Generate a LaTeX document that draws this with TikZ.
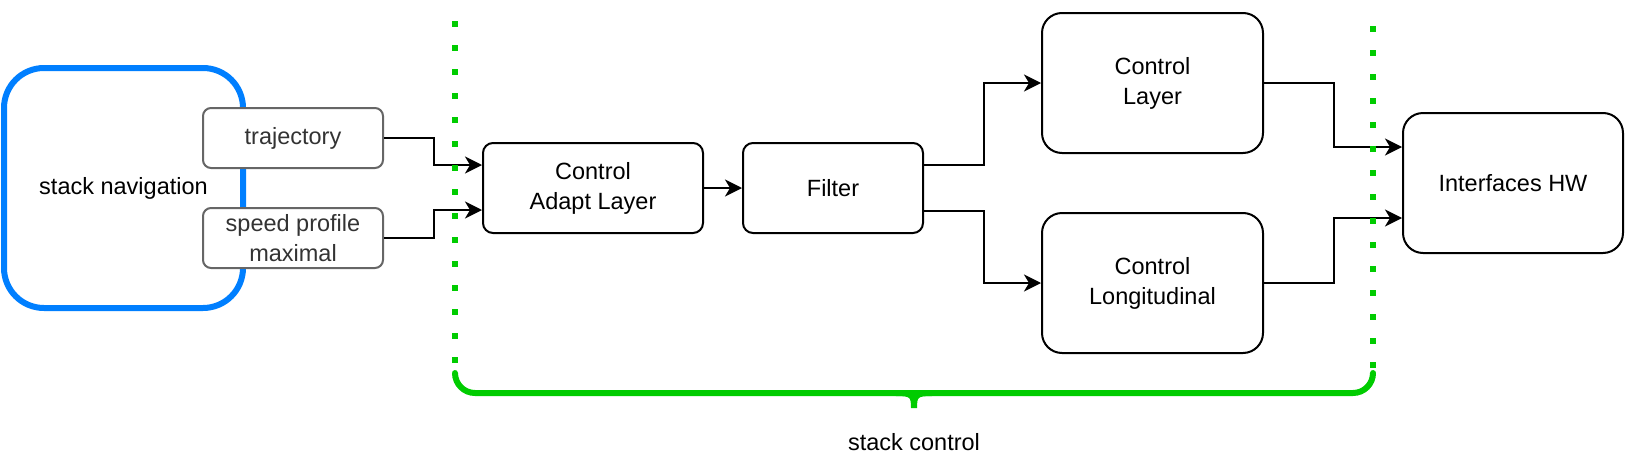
\documentclass[tikz,border=0pt]{standalone}
\usepackage{fontspec}
\setmainfont{Liberation Sans}
\usepackage{xcolor}
\usetikzlibrary{arrows.meta}

\definecolor{navblue}{RGB}{0,127,255}
\definecolor{ctrlgreen}{RGB}{0,204,0}
\definecolor{portgray}{RGB}{102,102,102}
\definecolor{porttext}{RGB}{51,51,51}

\begin{document}
\begin{tikzpicture}[x=1pt,y=-1pt,
  font=\fontsize{23.5}{30}\selectfont,
  block/.style={draw,line width=2pt,rounded corners=10pt,align=center,inner sep=0pt},
  bigblock/.style={block,rounded corners=20pt,minimum height=140pt},
  port/.style={block,draw=portgray,fill=white,text=porttext,rounded corners=8pt,minimum width=180pt,minimum height=60pt},
  link/.style={line width=2pt,-{Stealth[length=17pt,width=17pt,inset=5pt]}},
  limit/.style={ctrlgreen,line width=6pt,dash pattern=on 6pt off 18pt},
  brace/.style={ctrlgreen,line width=6pt,line cap=round}]

\useasboundingbox (0,0) rectangle (1626,474);


\node[block,draw=navblue,line width=6pt,rounded corners=40pt,minimum width=239pt,minimum height=240pt] (nav) at (123.5,188) {stack navigation};
\node[port] (traj) at (293,138) {trajectory};
\node[port] (speed) at (293,238) {speed profile\\maximal};


\node[block,minimum width=220pt,minimum height=90pt] (adapt) at (593,188) {Control\\Adapt Layer};
\node[block,minimum width=180pt,minimum height=90pt] (filter) at (833,188) {Filter};
\node[bigblock,minimum width=221pt] (layer) at (1152.5,83) {Control\\Layer};
\node[bigblock,minimum width=221pt] (longi) at (1152.5,283) {Control\\Longitudinal};
\node[bigblock,minimum width=220pt] (hw) at (1513,183) {Interfaces HW};


\draw[link] (traj.east) -- ++(50,0) |- ([yshift=23pt]adapt.west);
\draw[link] (speed.east) -- ++(50,0) |- ([yshift=-22pt]adapt.west);
\draw[link] (adapt) -- (filter);
\draw[link] ([yshift=23pt]filter.east) -- ++(60,0) |- (layer.west);
\draw[link] ([yshift=-23pt]filter.east) -- ++(60,0) |- (longi.west);
\draw[link] (layer.east) -- ++(70,0) |- ([yshift=36pt]hw.west);
\draw[link] (longi.east) -- ++(70,0) |- ([yshift=-35pt]hw.west);


% limits of the control stack
\draw[limit] (455,21) -- (455,368);
\draw[limit] (1373,26) -- (1373,369);

\draw[brace,rounded corners=20pt] (455,373) |- (914,393) -| (1373,373);
\draw[brace] (896,393) .. controls (912,393) and (914,395) .. (914,408)
  .. controls (914,395) and (916,393) .. (932,393);
\node (ctrl) at (914,442) {stack control};

\end{tikzpicture}
\end{document}
